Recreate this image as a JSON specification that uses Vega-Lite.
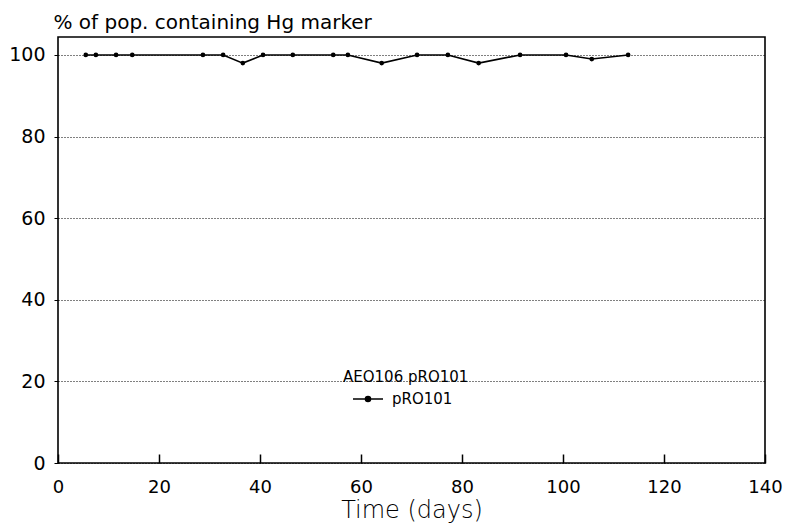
{
  "$schema": "https://vega.github.io/schema/vega-lite/v6.json",
  "width": 707,
  "height": 426,
  "autosize": {"type": "none"},
  "padding": {"left": 58, "top": 37, "right": 22, "bottom": 66},
  "background": "white",
  "config": {
    "view": {"stroke": "black", "strokeWidth": 1.6},
    "font": "DejaVu Sans"
  },
  "data": {
    "values": [
      {"day": 5.5, "pct": 100, "series": "pRO101"},
      {"day": 7.5, "pct": 100, "series": "pRO101"},
      {"day": 11.5, "pct": 100, "series": "pRO101"},
      {"day": 14.7, "pct": 100, "series": "pRO101"},
      {"day": 28.7, "pct": 100, "series": "pRO101"},
      {"day": 32.7, "pct": 100, "series": "pRO101"},
      {"day": 36.6, "pct": 98, "series": "pRO101"},
      {"day": 40.6, "pct": 100, "series": "pRO101"},
      {"day": 46.5, "pct": 100, "series": "pRO101"},
      {"day": 54.5, "pct": 100, "series": "pRO101"},
      {"day": 57.4, "pct": 100, "series": "pRO101"},
      {"day": 64.1, "pct": 98, "series": "pRO101"},
      {"day": 71.1, "pct": 100, "series": "pRO101"},
      {"day": 77.2, "pct": 100, "series": "pRO101"},
      {"day": 83.3, "pct": 98, "series": "pRO101"},
      {"day": 91.5, "pct": 100, "series": "pRO101"},
      {"day": 100.6, "pct": 100, "series": "pRO101"},
      {"day": 105.7, "pct": 99, "series": "pRO101"},
      {"day": 112.9, "pct": 100, "series": "pRO101"}
    ]
  },
  "mark": {"type": "line", "strokeWidth": 1.6, "point": {"filled": true, "size": 22, "color": "black"}},
  "encoding": {
    "x": {
      "field": "day", "type": "quantitative",
      "scale": {"domain": [0, 140], "nice": false, "zero": false},
      "axis": {
        "values": [0, 20, 40, 60, 80, 100, 120, 140],
        "grid": false,
        "domain": false,
        "ticks": true,
        "zindex": 2,
        "tickSize": -9,
        "tickColor": "black",
        "tickWidth": 1.5,
        "labelPadding": 24,
        "labelFont": "DejaVu Sans",
        "labelFontSize": 18,
        "labelColor": "black",
        "labelFlush": false,
        "title": "Time (days)",
        "titleFont": "DejaVu Sans",
        "titleFontSize": 24,
        "titleFontWeight": 200,
        "titleColor": "black",
        "titlePadding": 2
      }
    },
    "y": {
      "field": "pct", "type": "quantitative",
      "scale": {"domain": [0, 104.4], "nice": false, "zero": true},
      "axis": {
        "values": [0, 20, 40, 60, 80, 100],
        "grid": true,
        "gridColor": "black",
        "gridDash": [1, 2],
        "gridWidth": 1,
        "domain": false,
        "tickSize": 4,
        "tickColor": "black",
        "labelPadding": 9,
        "labelFont": "DejaVu Sans",
        "labelFontSize": 19,
        "labelColor": "black",
        "title": "% of pop. containing Hg marker",
        "titleAngle": 0,
        "titleAlign": "left",
        "titleBaseline": "alphabetic",
        "titleX": -5,
        "titleY": -9,
        "titleFont": "DejaVu Sans",
        "titleFontSize": 20,
        "titleFontWeight": "normal",
        "titleColor": "black"
      }
    },
    "color": {
      "field": "series", "type": "nominal",
      "scale": {"range": ["black"]},
      "legend": {
        "orient": "none",
        "legendX": 285,
        "legendY": 333,
        "padding": 0,
        "title": "AEO106 pRO101",
        "titleFont": "DejaVu Sans",
        "titleFontSize": 15,
        "titleFontWeight": "normal",
        "titleColor": "black",
        "titlePadding": -2,
        "symbolType": "M-1,0H1M-0.17,0A0.17,0.17 0 1,0 0.17,0A0.17,0.17 0 1,0 -0.17,0",
        "symbolSize": 900,
        "symbolStrokeWidth": 1.5,
        "symbolStrokeColor": "black",
        "symbolFillColor": "black",
        "symbolOffset": 9,
        "labelOffset": 8,
        "labelFont": "DejaVu Sans",
        "labelFontSize": 15,
        "labelColor": "black"
      }
    }
  }
}
